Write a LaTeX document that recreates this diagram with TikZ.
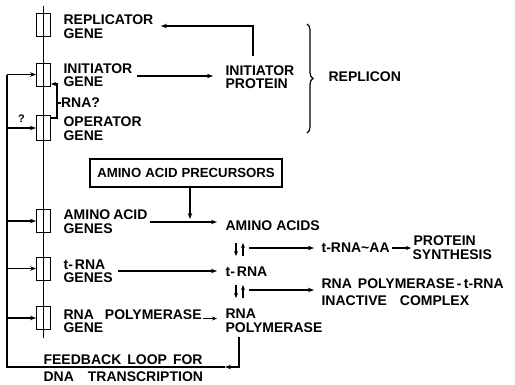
\documentclass[tikz,border=0pt]{standalone}
\usepackage{fontspec}
\setmainfont{Liberation Sans}
\usetikzlibrary{arrows.meta,decorations.pathreplacing}
\newcommand\wg[1]{\hspace{#1pt}}
\begin{document}
\begin{tikzpicture}[x=1pt,y=-1pt, line width=1.2pt,
  lbl/.style={anchor=west, inner sep=0pt, align=left, font=\fontsize{14}{13.5}\selectfont\bfseries},
  genebox/.style={draw, line width=1pt, minimum width=14pt, minimum height=23pt, inner sep=0pt},
  arr/.style={-{Stealth[length=6pt,width=4.5pt]}},
  sarr/.style={-{Stealth[length=5pt,width=4pt]}}]
\useasboundingbox (0,0) rectangle (515,384);

% DNA strand and gene boxes
\coordinate (dnatop) at (43.5,6);
\coordinate (dnabot) at (43.5,338);
\draw (dnatop) -- (dnabot);
\node[genebox] (b1) at (43.5,24.5) {};
\node[genebox] (b2) at (43.5,74.5) {};
\node[genebox, minimum height=25pt] (b3) at (43.5,128) {};
\node[genebox] (b4) at (43.5,221) {};
\node[genebox] (b5) at (43.5,268.5) {};
\node[genebox] (b6) at (43.5,318) {};

% gene labels
\node[lbl] (repl) at (63,26.5) {REPLICATOR\\GENE};
\node[lbl] (initg) at (63,75) {INITIATOR\\GENE};
\node[lbl] (opg) at (63,128.5) {OPERATOR\\GENE};
\node[lbl] (aag) at (63,221.5) {AMINO\wg{3}ACID\\GENES};
\node[lbl] (trg) at (63,271) {t-\wg{2}RNA\\GENES};
\node[lbl] (rpg) at (63,321) {RNA\wg{11}POLYMERASE\\GENE};

% product labels
\node[lbl] (initp) at (225,77) {INITIATOR\\PROTEIN};
\node[lbl] (aa) at (225,226) {AMINO\wg{4}ACIDS};
\node[lbl] (trna) at (225,272) {t-\wg{2}RNA};
\node[lbl] (rpol) at (225,320.5) {RNA\\POLYMERASE};
\node[lbl] (traa) at (321,248) {t-RNA\textasciitilde AA};
\node[lbl] (protsyn) at (412,247.5) {\wg{1}PROTEIN\\SYNTHESIS};
\node[lbl] (complex) at (321,292) {RNA\wg{6}POLYMERASE\,-\,t-RNA\\[3pt]INACTIVE\wg{13}COMPLEX};
\node[lbl] (replicon) at (328,77) {REPLICON};
\node[draw, inner sep=0pt, minimum width=192pt, minimum height=28pt,
  font=\fontsize{13.2}{13.2}\selectfont\bfseries] (prec) at (186,173) {AMINO\wg{4}ACID\wg{4}PRECURSORS};
\node[lbl] (rnaq) at (60.5,103) {RNA?};
\node[inner sep=0pt, font=\fontsize{11}{11}\selectfont\bfseries] (qm) at (21.5,118.5) {?};
\node[lbl] (fb1) at (43,360) {FEEDBACK\wg{6}LOOP\wg{6}FOR};
\node[lbl] (fb2) at (43,377) {DNA\wg{14}TRANSCRIPTION};

% replicon brace
\draw[decorate, decoration={brace, amplitude=6pt}] (307,24) -- (307,133);

% initiator gene -> protein -> replicator
\draw[arr] ([xshift=4pt]initg.east |- 0,76) -- (213,76);
\coordinate (ip) at (253,56);
\coordinate (ipc) at (253,26);
\draw[arr] (ip) -- (ipc) -- ([xshift=7pt]repl.east |- ipc);

% RNA? loop from operator to initiator
\coordinate (q1) at (57,118);
\coordinate (q2) at (57,84);
\draw[sarr] (b3.east |- q1) -- (q1) -- (q2) -- (b2.east |- q2);
\draw (57,103) -- (rnaq.west);

% feedback loop on the left
\coordinate (lt) at (7,74.5);
\coordinate (lb) at (7,367);
\coordinate (rt) at (239,337);
\coordinate (rb) at (239,367);
\coordinate (ra) at (225,367);
\draw (lt) -- (lb) -- (ra);
\draw[arr] (rt) -- (rb) -- (ra);
\draw[arr] (lt) -- (b2.west);
\draw[arr] (lt |- b3.west) -- (b3.west);
\draw[arr] (lt |- b4.west) -- (b4.west);
\draw[arr] (lt |- b5.west) -- (b5.west);
\draw[arr] (lt |- b6.west) -- (b6.west);

% genes -> products
\coordinate (pj) at (190,219);
\draw[arr] (prec.south -| pj) -- (pj);
\draw[arr] ([xshift=2pt]aag.east |- 0,222) -- (217,222);
\draw[arr] (118,271) -- (217,271);
\draw[sarr] ([xshift=1pt]rpg.east |- 0,318.5) -- (217,318.5);

% reversible steps
\coordinate (d1a) at (236,243);
\coordinate (d1b) at (236,256);
\coordinate (u1a) at (243,256);
\coordinate (u1b) at (243,243);
\draw[sarr] (d1a) -- (d1b);
\draw[sarr] (u1a) -- (u1b);
\draw[arr] (249,248) -- ([xshift=-7pt]traa.west);
\draw[sarr] ([xshift=2pt]traa.east) -- ([xshift=-1pt]protsyn.west |- traa.east);

\coordinate (d2a) at (236,285);
\coordinate (d2b) at (236,298);
\coordinate (u2a) at (243,298);
\coordinate (u2b) at (243,285);
\draw[sarr] (d2a) -- (d2b);
\draw[sarr] (u2a) -- (u2b);
\draw[arr] (249,290) -- ([xshift=-7pt]complex.west |- 0,290);
\end{tikzpicture}
\end{document}
